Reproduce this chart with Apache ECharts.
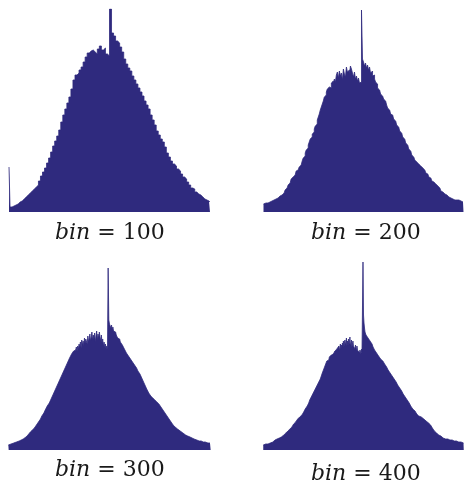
<!DOCTYPE html>
<html>
<head>
<meta charset="utf-8">
<script src="https://cdn.jsdelivr.net/npm/echarts@6/dist/echarts.min.js"></script>
<style>
html,body{margin:0;padding:0;background:#fff;}
#chart{width:464px;height:487px;}
</style>
</head>
<body>
<div id="chart"></div>
<script>
// Panel titles
var binLabels = ['100', '200', '300', '400'];

// Histogram counts (bar heights), one array per panel
var counts100 = [
45,5,6,7,8,10,11,13,15,17,
19,21,23,25,27,31,36,40,44,49,
54,60,66,71,76,82,90,97,103,109,
115,123,132,137,139,142,145,150,155,159,
161,162,160,158,163,166,162,164,158,156,
203,179,176,171,169,165,160,153,148,144,
141,136,132,128,124,120,116,111,107,103,
97,92,87,81,77,73,70,65,59,55,
51,48,46,43,41,38,35,33,30,27,
24,23,20,18,17,15,13,12,11,10
];

var counts200 = [
8,8,9,9,9,10,10,11,11,12,
12,13,13,14,14,15,16,17,17,18,
19,21,22,24,26,27,29,31,33,35,
36,37,39,41,42,44,45,47,48,51,
54,56,59,62,64,67,70,73,75,78,
80,83,86,88,92,95,98,102,105,108,
111,115,117,120,123,125,127,124,129,131,
128,133,130,137,140,134,141,136,139,132,
143,138,135,145,140,142,137,146,143,139,
135,140,133,136,131,134,129,130,202,153,
150,146,149,144,147,142,145,139,141,136,
137,133,130,128,124,122,120,118,116,114,
113,111,109,107,104,102,100,98,97,95,
93,91,89,87,85,83,81,79,77,75,
73,71,69,67,65,63,61,59,57,55,
53,52,50,49,48,47,46,45,44,43,
42,41,39,38,36,35,34,32,31,30,
29,28,27,26,25,24,22,21,20,19,
18,17,17,16,15,15,14,13,13,13,
12,12,12,12,12,11,11,11,10,10
];

var counts300 = [
5,5,5,6,6,6,6,7,7,7,
7,8,8,8,8,9,9,9,10,10,
10,11,11,12,12,13,13,14,15,15,
16,16,17,18,18,19,20,20,21,22,
23,24,25,26,27,28,29,30,31,33,
34,35,36,37,39,40,41,42,44,45,
46,47,49,50,52,53,55,56,57,59,
60,62,63,65,67,68,70,71,73,74,
76,77,79,80,82,83,85,86,88,89,
90,92,93,94,96,97,95,99,98,101,
100,103,99,104,101,106,103,108,102,110,
105,109,104,112,107,111,113,106,114,108,
112,116,109,113,118,110,115,111,117,108,
114,119,110,116,112,118,113,109,115,107,
111,104,108,103,106,101,104,100,182,130,
126,128,122,125,120,123,119,121,117,118,
115,116,112,113,110,111,108,109,106,105,
104,103,101,100,99,97,96,95,94,93,
92,91,90,89,88,87,86,85,84,83,
82,81,79,78,77,76,74,73,72,70,
69,67,66,64,63,61,60,59,57,56,
55,54,53,53,52,51,51,50,49,49,
48,48,47,46,45,44,43,42,41,40,
39,38,37,36,35,34,33,32,31,30,
29,28,27,26,25,25,24,23,22,21,
21,20,20,19,19,18,18,17,17,16,
16,15,15,15,14,14,13,13,13,12,
12,12,11,11,11,11,10,10,10,10,
10,9,9,9,9,9,9,8,8,8,
8,8,8,8,7,7,7,7,7,7
];

var counts400 = [
5,5,5,5,6,6,6,6,6,6,
7,7,7,7,7,8,8,8,8,8,
9,9,9,9,10,10,10,10,11,11,
11,12,12,12,12,13,13,13,14,14,
15,15,16,16,17,17,18,18,19,19,
20,20,21,21,22,22,23,23,24,25,
25,26,26,27,27,28,29,29,30,31,
31,32,32,33,33,34,35,35,36,36,
37,38,39,40,41,42,42,43,44,45,
46,47,48,50,51,52,53,54,55,56,
57,58,59,60,61,62,63,64,65,66,
67,68,69,70,71,73,74,75,77,78,
79,81,82,83,85,86,87,89,88,90,
91,90,93,92,94,93,95,96,94,97,
96,98,95,99,97,100,98,101,99,102,
100,104,99,103,106,101,105,102,107,104,
109,103,107,110,105,108,112,104,109,106,
111,105,108,113,104,107,110,103,106,109,
104,102,106,101,105,103,99,104,100,102,
98,101,97,100,99,96,101,98,100,188,
135,127,122,118,120,115,117,113,116,112,
114,110,113,109,111,110,108,106,107,103,
102,101,100,99,98,98,97,96,96,95,
94,93,93,92,91,91,90,89,89,88,
87,87,86,85,84,84,83,82,81,80,
80,79,78,77,77,76,75,74,73,73,
72,71,70,69,69,68,67,66,65,64,
64,63,62,61,60,60,59,58,57,56,
56,55,54,53,52,51,51,50,49,48,
48,47,46,45,44,43,43,42,41,40,
40,39,39,38,37,37,36,36,35,35,
34,34,33,33,33,32,32,31,31,31,
30,30,30,29,29,28,28,28,27,27,
26,26,25,25,24,23,23,22,21,21,
20,19,18,18,17,17,16,16,15,15,
15,14,14,14,13,13,13,12,12,12,
12,12,11,11,11,11,11,11,11,10,
10,10,10,10,10,10,10,10,10,9,
9,9,9,9,9,9,9,9,8,8,
8,8,8,8,8,8,7,7,7,7
];

var panels = [
  {data: counts100, label: binLabels[0], grid: {left: 8,   top: 9,   width: 203, height: 203}, ymax: 203, lx: 111, ly: 235},
  {data: counts200, label: binLabels[1], grid: {left: 263, top: 9,   width: 201, height: 203}, ymax: 203, lx: 367, ly: 235},
  {data: counts300, label: binLabels[2], grid: {left: 8,   top: 250, width: 203, height: 200}, ymax: 200, lx: 111, ly: 472},
  {data: counts400, label: binLabels[3], grid: {left: 263, top: 250, width: 201, height: 200}, ymax: 200, lx: 367, ly: 476}
];

var barColor = '#2f2a7e';
var option = {
  animation: false,
  backgroundColor: '#ffffff',
  grid: [], xAxis: [], yAxis: [], series: [], graphic: []
};

panels.forEach(function (p, k) {
  option.grid.push(p.grid);
  option.xAxis.push({
    type: 'category', gridIndex: k,
    data: p.data.map(function (_, i) { return i; }),
    show: false, boundaryGap: true
  });
  option.yAxis.push({type: 'value', gridIndex: k, min: 0, max: p.ymax, show: false});
  // histogram drawn as a filled step outline so adjacent bins touch without seams
  option.series.push({
    type: 'line', step: 'middle', xAxisIndex: k, yAxisIndex: k, data: p.data,
    showSymbol: false, symbol: 'none', silent: true,
    lineStyle: {color: barColor, width: 0.8},
    areaStyle: {color: barColor, opacity: 1}
  });
  option.graphic.push({
    type: 'text', left: p.lx - 56, top: p.ly - 13,
    style: {
      text: '{i|bin} = ' + p.label,
      rich: {i: {fontStyle: 'italic', fontFamily: 'DejaVu Serif', fontSize: 22, fill: '#1a1a1a'}},
      font: '22px "DejaVu Serif"',
      fill: '#1a1a1a'
    }
  });
});

var chart = echarts.init(document.getElementById('chart'), null, {renderer: 'canvas'});
chart.setOption(option);
</script>
</body>
</html>
